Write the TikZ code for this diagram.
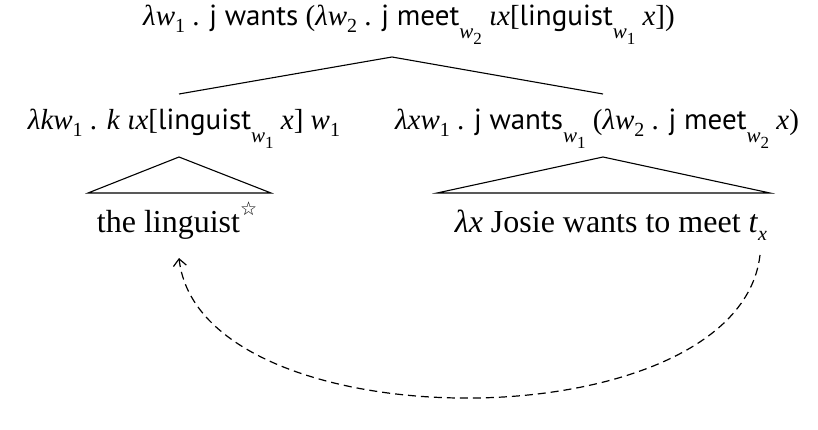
\documentclass[tikz,border=0pt]{standalone}
\usepackage{fontspec}
\usetikzlibrary{arrows.meta}
\setmainfont{Liberation Serif}
\newfontfamily\sff{PT Sans}
\newfontfamily\symf{DejaVu Sans}
\newcommand\Sf[1]{{\sff #1}}
\newcommand\V[1]{\textit{#1}}
\newcommand\Lo[1]{\raisebox{-0.22em}{\fontsize{20}{20}\selectfont #1}}
\newcommand\Wsub[1]{\raisebox{-0.42em}{\fontsize{21}{21}\selectfont\itshape w\raisebox{-0.28em}{\fontsize{17}{17}\selectfont\upshape #1}}}
\begin{document}
\begin{tikzpicture}[x=1pt,y=-1pt,
  lab/.style={anchor=base,inner sep=0pt,font=\fontsize{29}{33}\selectfont},
  big/.style={anchor=base,inner sep=0pt,font=\fontsize{32}{36}\selectfont},
  edge/.style={line width=1.1pt},
  move/.style={line width=1.2pt,dashed,dash pattern=on 8pt off 5pt,-{Straight Barb[length=7pt,width=13pt]}}]
\useasboundingbox (0,0) rectangle (818,430);
\node[lab] (top) at (409,26) {\V{λw}\Lo{1} . \Sf{j wants} (\V{λw}\Lo{2} . \Sf{j meet}\Wsub{2}\ \V{ιx}[\Sf{linguist}\Wsub{1}\ \V{x}])};
\node[lab] (lc) at (184,130) {\V{λkw}\Lo{1} . \V{k} \V{ιx}[\Sf{linguist}\Wsub{1}\ \V{x}] \V{w}\Lo{1}};
\node[lab] (rc) at (597,130) {\V{λxw}\Lo{1} . \Sf{j wants}\Wsub{1} (\V{λw}\Lo{2} . \Sf{j meet}\Wsub{2}\ \V{x})};
\node[big] (ling) at (177,233) {the linguist\raisebox{0.55em}{\fontsize{19}{19}\selectfont\symf ☆}};
\node[big] (tx) at (611,233) {\V{λx} Josie wants to meet \V{t}\Lo{\V{x}}};
% branching
\coordinate (apex) at (392,57);
\coordinate (lend) at (179,94);
\coordinate (rend) at (603,94);
\draw[edge] (lend) -- (apex) -- (rend);
% triangles
\coordinate (la) at (179,157);
\coordinate (lb1) at (88,193);
\coordinate (lb2) at (271,193);
\draw[edge] (la) -- (lb1) -- (lb2) -- cycle;
\coordinate (ra) at (603,157);
\coordinate (rb1) at (437,193);
\coordinate (rb2) at (770,193);
\draw[edge] (ra) -- (rb1) -- (rb2) -- cycle;
% movement arrow
\coordinate (as) at (760,255);
\coordinate (ae) at (179,258);
\draw[move] (as) .. controls (738,445) and (200,445) .. (ae);
\end{tikzpicture}
\end{document}
